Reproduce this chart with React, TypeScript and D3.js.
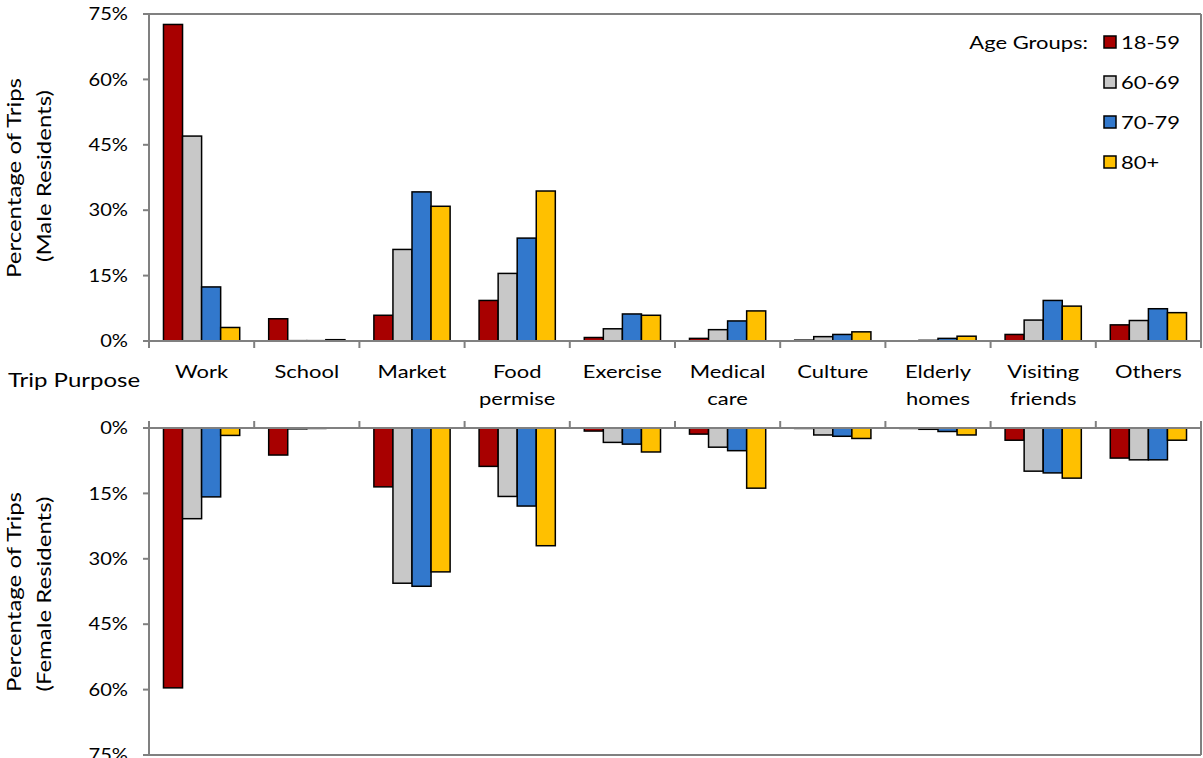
import React from 'react';
import * as d3 from 'd3';

const categories = ["Work", "School", "Market", "Food\npermise", "Exercise", "Medical\ncare", "Culture", "Elderly\nhomes", "Visiting\nfriends", "Others"];
const ageGroups = ["18-59", "60-69", "70-79", "80+"];
const groupColors = ["#A80000", "#C8C8C8", "#3278CC", "#FFC000"];
const yTicks = [0, 15, 30, 45, 60, 75];

const male18_59 = [72.6, 5.1, 5.9, 9.3, 0.8, 0.6, 0.2, 0.05, 1.5, 3.7];
const male60_69 = [47.0, 0.08, 21.0, 15.5, 2.8, 2.6, 1.0, 0.15, 4.8, 4.7];
const male70_79 = [12.4, 0.08, 34.2, 23.6, 6.2, 4.6, 1.5, 0.6, 9.3, 7.4];
const male80p = [3.1, 0.3, 30.9, 34.4, 5.9, 6.9, 2.1, 1.1, 8.0, 6.5];

const female18_59 = [59.6, 6.2, 13.5, 8.8, 0.7, 1.4, 0.1, 0.1, 2.8, 6.9];
const female60_69 = [20.8, 0.2, 35.6, 15.7, 3.3, 4.4, 1.6, 0.3, 9.9, 7.3];
const female70_79 = [15.8, 0.1, 36.3, 17.9, 3.7, 5.2, 1.9, 0.8, 10.3, 7.3];
const female80p = [1.7, 0, 33.0, 27.0, 5.5, 13.8, 2.4, 1.6, 11.5, 2.8];

const maleSeries = [male18_59, male60_69, male70_79, male80p];
const femaleSeries = [female18_59, female60_69, female70_79, female80p];

const W = 1203, H = 758;
const FONT = "Lato, 'Open Sans', sans-serif";
const AXIS = "#808080";

function Txt({ x, y, size, sx = 1.22, anchor = "start", rotate = 0, children, baseline = "auto" }: any) {
  return (
    <text
      transform={`translate(${x},${y})${rotate ? ` rotate(${rotate})` : ""} scale(${sx},1)`}
      fontSize={size}
      fontFamily={FONT}
      textAnchor={anchor}
      dominantBaseline={baseline}
      fill="#000"
    >
      {children}
    </text>
  );
}

export default function App() {
  const x = d3.scaleBand<string>().domain(categories).range([149, 1201]).paddingInner(0).paddingOuter(0);
  const xs = d3.scaleBand<string>().domain(ageGroups).range([0, x.bandwidth()]).paddingInner(0).paddingOuter(0.76);
  const yTop = d3.scaleLinear().domain([0, 75]).range([341, 14]);
  const yBot = d3.scaleLinear().domain([0, 75]).range([428, 755]);
  const [x0, x1] = x.range();

  const bars = (series: number[][], y: d3.ScaleLinear<number, number>) =>
    series.map((vals, gi) =>
      vals.map((v, ci) => {
        const bx = (x(categories[ci]) as number) + (xs(ageGroups[gi]) as number);
        const ya = y(0), yb = y(v);
        return (
          <rect
            key={`${gi}-${ci}`}
            x={bx}
            y={Math.min(ya, yb)}
            width={xs.bandwidth()}
            height={Math.abs(yb - ya)}
            fill={groupColors[gi]}
            stroke="#000"
            strokeWidth={1.5}
          />
        );
      })
    );

  const boundaries = d3.range(categories.length + 1).map((i) => x0 + i * x.step());

  return (
    <svg width={W} height={H} style={{ position: "absolute", left: 0, top: 0, background: "#fff" }}>
      {/* top chart frame */}
      <line x1={x0} x2={x1} y1={yTop(75)} y2={yTop(75)} stroke={AXIS} strokeWidth={2} />
      <line x1={x1} x2={x1} y1={yTop(75)} y2={yTop(0)} stroke={AXIS} strokeWidth={2} />
      <line x1={x0} x2={x0} y1={yTop(75)} y2={yTop(0)} stroke={AXIS} strokeWidth={2} />
      {yTicks.map((t) => (
        <g key={"tt" + t}>
          <line x1={x0 - 6} x2={x0} y1={yTop(t)} y2={yTop(t)} stroke={AXIS} strokeWidth={2} />
          <Txt x={128} y={yTop(t)} size={16.5} anchor="end" baseline="central">{t}%</Txt>
        </g>
      ))}
      {/* bottom chart frame */}
      <line x1={x0} x2={x1} y1={yBot(75)} y2={yBot(75)} stroke={AXIS} strokeWidth={2} />
      <line x1={x1} x2={x1} y1={yBot(0)} y2={yBot(75)} stroke={AXIS} strokeWidth={2} />
      <line x1={x0} x2={x0} y1={yBot(0)} y2={yBot(75)} stroke={AXIS} strokeWidth={2} />
      {yTicks.map((t) => (
        <g key={"bt" + t}>
          <line x1={x0 - 6} x2={x0} y1={yBot(t)} y2={yBot(t)} stroke={AXIS} strokeWidth={2} />
          <Txt x={128} y={yBot(t)} size={16.5} anchor="end" baseline="central">{t}%</Txt>
        </g>
      ))}

      {bars(maleSeries, yTop)}
      {bars(femaleSeries, yBot)}

      {/* baselines and category ticks */}
      <line x1={x0} x2={x1} y1={yTop(0)} y2={yTop(0)} stroke={AXIS} strokeWidth={2} />
      <line x1={x0} x2={x1} y1={yBot(0)} y2={yBot(0)} stroke={AXIS} strokeWidth={2} />
      {boundaries.map((bx, i) => (
        <g key={"b" + i}>
          <line x1={bx} x2={bx} y1={yTop(0)} y2={yTop(0) + 7} stroke={AXIS} strokeWidth={2} />
          <line x1={bx} x2={bx} y1={yBot(0) - 7} y2={yBot(0)} stroke={AXIS} strokeWidth={2} />
        </g>
      ))}

      {/* category labels */}
      {categories.map((c) => {
        const cx = (x(c) as number) + x.bandwidth() / 2;
        return c.split("\n").map((line, li) => (
          <Txt key={c + li} x={cx} y={378 + li * 27} size={18} anchor="middle">{line}</Txt>
        ));
      })}
      <Txt x={8} y={387} size={20} sx={1.2}>Trip Purpose</Txt>

      {/* y-axis titles */}
      <Txt x={21} y={178} size={20} rotate={-90} anchor="middle" sx={1.2}>Percentage of Trips</Txt>
      <Txt x={51} y={176} size={20} rotate={-90} anchor="middle" sx={1.2}>(Male Residents)</Txt>
      <Txt x={21} y={592} size={20} rotate={-90} anchor="middle" sx={1.2}>Percentage of Trips</Txt>
      <Txt x={51} y={594} size={20} rotate={-90} anchor="middle" sx={1.2}>(Female Residents)</Txt>

      {/* legend */}
      <Txt x={1088} y={42} size={18} anchor="end" baseline="central">Age Groups:</Txt>
      {ageGroups.map((g, i) => (
        <g key={g}>
          <rect x={1104} y={36 + i * 40} width={12} height={12} fill={groupColors[i]} stroke="#000" strokeWidth={1.5} />
          <Txt x={1121} y={42 + i * 40} size={18} baseline="central">{g}</Txt>
        </g>
      ))}
    </svg>
  );
}
